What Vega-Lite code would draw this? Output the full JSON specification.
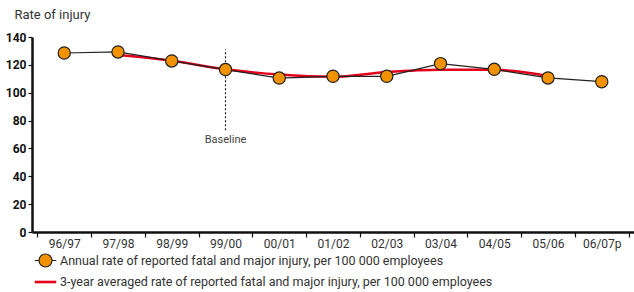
{
  "$schema": "https://vega.github.io/schema/vega-lite/v6.json",
  "width": 602,
  "height": 195,
  "autosize": {"type": "none"},
  "padding": {"left": 32, "top": 37, "right": 0, "bottom": 60},
  "background": "white",
  "config": {
    "view": {"stroke": null},
    "font": "Roboto",
    "axis": {"grid": false, "domainColor": "#111", "tickColor": "#111", "labelFont": "Roboto", "titleFont": "Roboto"},
    "legend": {"labelFont": "Roboto"}
  },
  "datasets": {
    "annual": [
      {"year": "96/97", "rate": 128.5, "series": "Annual rate of reported fatal and major injury, per 100 000 employees"},
      {"year": "97/98", "rate": 129.3, "series": "Annual rate of reported fatal and major injury, per 100 000 employees"},
      {"year": "98/99", "rate": 122.8, "series": "Annual rate of reported fatal and major injury, per 100 000 employees"},
      {"year": "99/00", "rate": 116.6, "series": "Annual rate of reported fatal and major injury, per 100 000 employees"},
      {"year": "00/01", "rate": 110.5, "series": "Annual rate of reported fatal and major injury, per 100 000 employees"},
      {"year": "01/02", "rate": 111.8, "series": "Annual rate of reported fatal and major injury, per 100 000 employees"},
      {"year": "02/03", "rate": 111.8, "series": "Annual rate of reported fatal and major injury, per 100 000 employees"},
      {"year": "03/04", "rate": 120.9, "series": "Annual rate of reported fatal and major injury, per 100 000 employees"},
      {"year": "04/05", "rate": 116.8, "series": "Annual rate of reported fatal and major injury, per 100 000 employees"},
      {"year": "05/06", "rate": 110.6, "series": "Annual rate of reported fatal and major injury, per 100 000 employees"},
      {"year": "06/07p", "rate": 107.9, "series": "Annual rate of reported fatal and major injury, per 100 000 employees"}
    ],
    "avg": [
      {"year": "97/98", "rate": 127.0},
      {"year": "98/99", "rate": 122.9},
      {"year": "99/00", "rate": 116.8},
      {"year": "00/01", "rate": 113.0},
      {"year": "01/02", "rate": 111.4},
      {"year": "02/03", "rate": 114.8},
      {"year": "03/04", "rate": 116.5},
      {"year": "04/05", "rate": 116.4},
      {"year": "05/06", "rate": 112.0}
    ],
    "baseline": [
      {"year": "99/00", "rate": 73, "rate_top": 131}
    ],
    "baselineLabel": [
      {"year": "99/00", "rate": 66, "label": "Baseline"}
    ]
  },
  "encoding": {
    "x": {
      "field": "year", "type": "ordinal",
      "scale": {"type": "band", "paddingInner": 0, "paddingOuter": 0.1,
        "domain": ["96/97","97/98","98/99","99/00","00/01","01/02","02/03","03/04","04/05","05/06","06/07p"]},
      "axis": {"title": null, "labelAngle": 0, "tickBand": "extent", "tickSize": 5, "labelPadding": 1, "orient": "bottom",
        "domainWidth": 2.5, "tickWidth": 1.2, "labelFontSize": 12, "labelColor": "#333"}
    },
    "y": {"field": "rate", "type": "quantitative",
      "scale": {"domain": [0, 140], "nice": false},
      "axis": {"values": [0, 20, 40, 60, 80, 100, 120, 140], "tickSize": 4, "labelPadding": 2, "labelOverlap": false,
        "domainWidth": 2.5, "tickWidth": 1.2, "labelFontSize": 12, "labelFontWeight": "bold", "labelColor": "#111",
        "title": "Rate of injury", "titleAngle": 0, "titleX": -18, "titleY": -23, "titleAlign": "left",
        "titleBaseline": "middle", "titleFontSize": 13, "titleFontWeight": "normal", "titleColor": "#333"}}
  },
  "layer": [
    {
      "data": {"name": "baseline"},
      "mark": {"type": "rule", "strokeDash": [2, 2], "color": "#222", "strokeWidth": 1.2},
      "encoding": {
        "y2": {"field": "rate_top"}
      }
    },
    {
      "data": {"name": "baselineLabel"},
      "mark": {"type": "text", "fontSize": 11, "color": "#444", "baseline": "middle"},
      "encoding": {
        "text": {"field": "label"}
      }
    },
    {
      "data": {"name": "avg"},
      "mark": {"type": "line", "strokeWidth": 2.5, "interpolate": "monotone", "color": "#e2001a"},
      "encoding": {}
    },
    {
      "data": {"name": "annual"},
      "mark": {"type": "line", "color": "#222", "strokeWidth": 1.2},
      "encoding": {}
    },
    {
      "data": {"name": "annual"},
      "mark": {"type": "point", "filled": true, "size": 1, "opacity": 1, "stroke": "#222"},
      "encoding": {
        "fill": {
          "field": "series", "type": "nominal",
          "scale": {"domain": ["Annual rate of reported fatal and major injury, per 100 000 employees", "3-year averaged rate of reported fatal and major injury, per 100 000 employees"], "range": ["#f39200", "#e2001a"]},
          "legend": {
            "title": null, "orient": "none", "legendX": 6, "legendY": 216, "direction": "vertical",
            "labelFontSize": 12.5, "labelColor": "#333", "labelLimit": 0, "labelOffset": 7,
            "rowPadding": 5, "symbolOpacity": 1, "symbolSize": 170
          }
        },
        "shape": {
          "field": "series", "type": "nominal",
          "scale": {"domain": ["Annual rate of reported fatal and major injury, per 100 000 employees", "3-year averaged rate of reported fatal and major injury, per 100 000 employees"],
            "range": ["M-1.65,0H-1M1,0H1.65M1,0A1,1 0 1,1 -1,0A1,1 0 1,1 1,0Z", "M-1.65,-0.2H1.65V0.2H-1.65Z"]}
        },
        "strokeWidth": {
          "field": "series", "type": "nominal",
          "scale": {"domain": ["Annual rate of reported fatal and major injury, per 100 000 employees", "3-year averaged rate of reported fatal and major injury, per 100 000 employees"], "range": [1.2, 0]}
        }
      }
    },
    {
      "data": {"name": "annual"},
      "mark": {"type": "point", "filled": true, "shape": "circle", "size": 150, "opacity": 1, "strokeWidth": 1.2, "stroke": "#222", "fill": "#f39200"},
      "encoding": {}
    }
  ]
}
